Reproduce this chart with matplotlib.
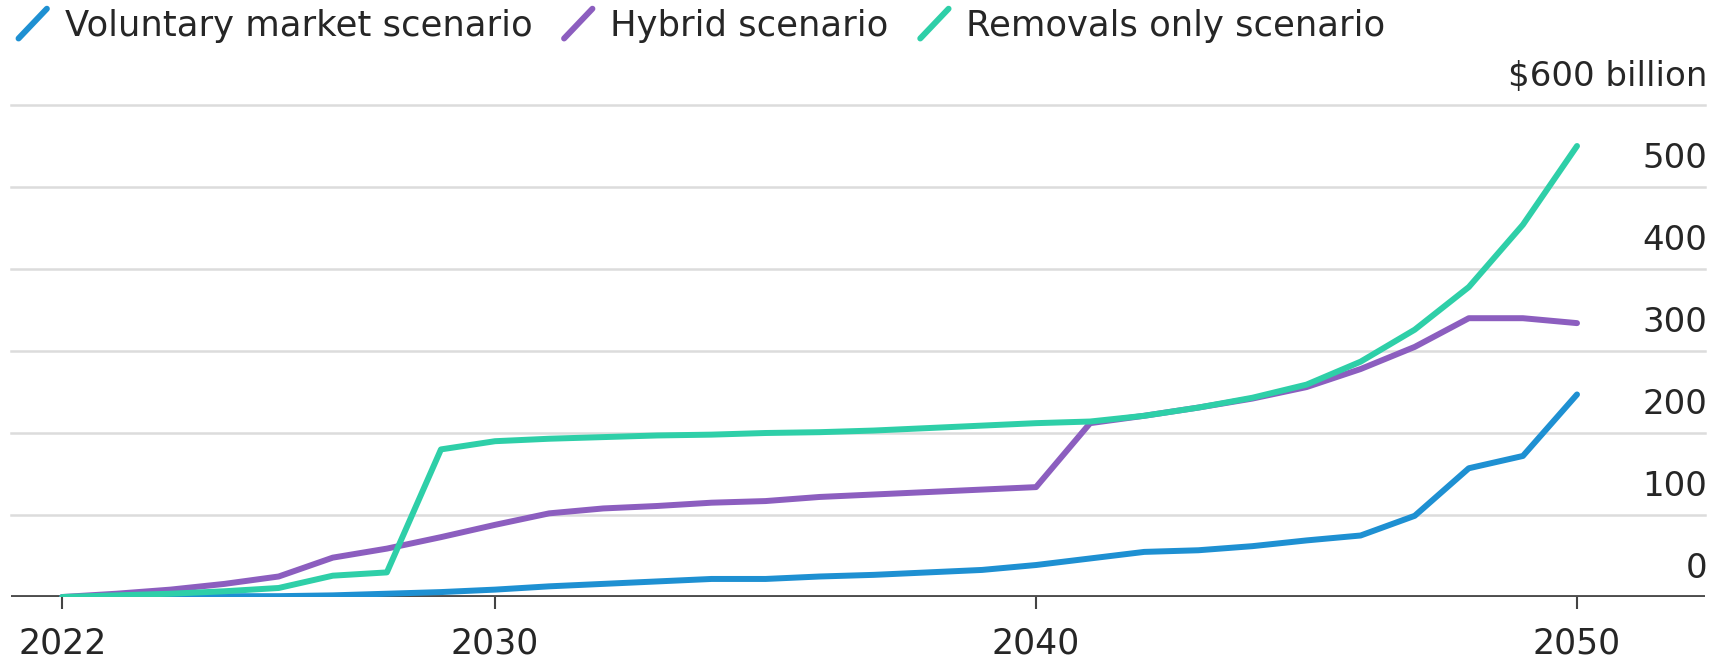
import matplotlib
matplotlib.use("Agg")
import matplotlib.pyplot as plt
import matplotlib.transforms as mtransforms
from matplotlib.lines import Line2D
from matplotlib.legend_handler import HandlerBase

plt.rcParams['font.family'] = ['DejaVu Sans']

# data, $ billion per year
years = list(range(2022, 2051))
voluntary = [0, 0, 1, 1, 1, 2, 4, 6, 9, 13, 16, 19, 22, 22, 25, 27, 30, 33, 39,
             47, 55, 57, 62, 69, 75, 99, 157, 172, 247]
hybrid = [0, 4, 9, 16, 25, 48, 59, 73, 88, 102, 108, 111, 115, 117, 122, 125, 128,
          131, 134, 212, 221, 231, 242, 256, 278, 305, 340, 340, 334]
removals = [0, 2, 4, 7, 11, 26, 30, 180, 190, 193, 195, 197, 198, 200, 201, 203, 206,
            209, 212, 214, 221, 231, 243, 259, 287, 326, 378, 454, 550]

series_names = ["Voluntary market scenario", "Hybrid scenario", "Removals only scenario"]
series_colors = ["#1e90d2", "#8c5ebf", "#2ecfa8"]

xtick_years = [2022, 2030, 2040, 2050]
y_levels = [0, 100, 200, 300, 400, 500, 600]
y_labels = ["0", "100", "200", "300", "400", "500", "$600 billion"]

W, H = 1714, 658
fig = plt.figure(figsize=(W / 100, H / 100), dpi=100)
ax = fig.add_axes([11 / W, 1 - 597 / H, (1705 - 11) / W, (597 - 105) / H])

for v in y_levels[1:]:
    ax.axhline(v, color="#dcdcdc", lw=1.8, zorder=1, clip_on=False)
ax.axhline(0, color="#4d4d4d", lw=2.8, zorder=2)

handles = []
for vals, name, col in zip([voluntary, hybrid, removals], series_names, series_colors):
    ln, = ax.plot(years, vals, color=col, lw=4.3, label=name, zorder=3,
                  solid_joinstyle="round", solid_capstyle="round")
    handles.append(ln)

ax.set_xlim(2021.052, 2052.366)
ax.set_ylim(0, 600)
for s in ax.spines.values():
    s.set_visible(False)

ax.set_xticks(xtick_years)
ax.set_xticklabels([str(y) for y in xtick_years])
ax.tick_params(axis="x", direction="out", length=8.5, width=1.5, color="#444444",
               pad=13, labelsize=25, labelcolor="#262626")
ax.set_yticks([])

# value labels sit above their gridlines, right aligned
lab_trans = mtransforms.offset_copy(ax.get_yaxis_transform(), fig=fig, x=2, y=19, units="dots")
for v, lab in zip(y_levels, y_labels):
    ax.text(1.0, v, lab, transform=lab_trans, ha="right", va="baseline",
            fontsize=24.5, color="#262626")


class SlashHandler(HandlerBase):
    def create_artists(self, legend, orig_handle, xdescent, ydescent, width, height,
                       fontsize, trans):
        x0, y0 = -xdescent, -ydescent
        ln = Line2D([x0 + 0.1 * width, x0 + 0.9 * width],
                    [y0 - 0.1 * height, y0 + 1.1 * height],
                    color=orig_handle.get_color(), lw=orig_handle.get_linewidth(),
                    solid_capstyle="round", transform=trans)
        return [ln]


fig.legend(handles=handles, labels=series_names, loc="upper left",
           bbox_to_anchor=(15 / W, 1 - 9 / H), ncol=3, frameon=False, fontsize=25.5,
           handlelength=1.0, handletextpad=0.4, columnspacing=0.8, borderpad=0,
           borderaxespad=0, labelcolor="#262626",
           handler_map={Line2D: SlashHandler()})

fig.savefig("out.png", dpi=100)
